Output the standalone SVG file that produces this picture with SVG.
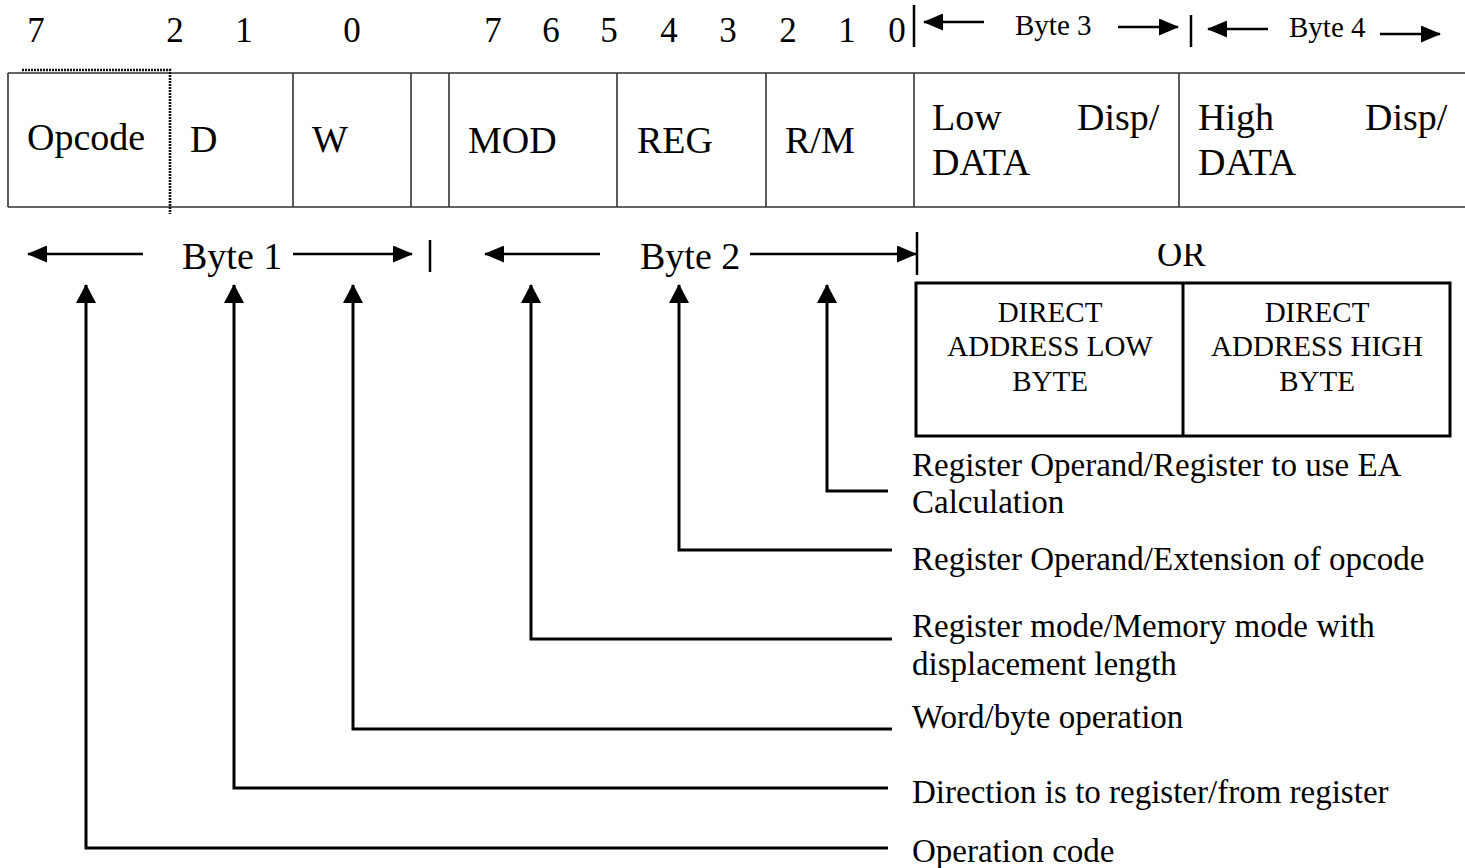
<svg xmlns="http://www.w3.org/2000/svg" width="1465" height="868" viewBox="0 0 1465 868">
  <style>
    text { font-family: "Liberation Serif", "Times New Roman", serif; fill: #000; }
    .bit { font-size: 35px; text-anchor: middle; }
    .cell { font-size: 38px; }
    .byte { font-size: 38px; }
    .byte-sm { font-size: 29px; }
    .box { font-size: 29px; text-anchor: middle; }
    .lbl { font-size: 33px; }
    .grid { stroke: #333; stroke-width: 1.6; fill: none; }
    .dot { stroke: #111; stroke-width: 2.6; stroke-dasharray: 2 1; fill: none; }
    .bar { stroke: #000; stroke-width: 2.5; }
    .harrow { stroke: #000; stroke-width: 2.5; fill: none; marker-end: url(#ah); }
    .lead { stroke: #000; stroke-width: 3; fill: none; marker-end: url(#au); }
  </style>
  <defs>
    <marker id="ah" markerUnits="userSpaceOnUse" markerWidth="20" markerHeight="17" refX="19" refY="8.5" orient="auto">
      <path d="M0,0 L20,8.5 L0,17 z" fill="#000"/>
    </marker>
    <marker id="au" markerUnits="userSpaceOnUse" markerWidth="19" markerHeight="20" refX="18" refY="10" orient="auto">
      <path d="M0,0 L19,10 L0,20 z" fill="#000"/>
    </marker>
    <clipPath id="orclip"><rect x="1140" y="244" width="90" height="40"/></clipPath>
  </defs>

  <rect width="1465" height="868" fill="#fff"/>

  <!-- bit numbers -->
  <g id="bit-numbers">
    <text class="bit" x="36" y="42">7</text>
    <text class="bit" x="175" y="42">2</text>
    <text class="bit" x="244" y="42">1</text>
    <text class="bit" x="352" y="42">0</text>
    <text class="bit" x="493" y="42">7</text>
    <text class="bit" x="551" y="42">6</text>
    <text class="bit" x="609" y="42">5</text>
    <text class="bit" x="669" y="42">4</text>
    <text class="bit" x="728" y="42">3</text>
    <text class="bit" x="788" y="42">2</text>
    <text class="bit" x="847" y="42">1</text>
    <text class="bit" x="897" y="42">0</text>
  </g>

  <!-- instruction format table -->
  <g id="table">
    <line class="grid" x1="8" y1="73" x2="1465" y2="73"/>
    <line class="grid" x1="8" y1="207" x2="1465" y2="207"/>
    <line class="grid" x1="8" y1="73" x2="8" y2="207"/>
    <line class="grid" x1="293" y1="73" x2="293" y2="207"/>
    <line class="grid" x1="411" y1="73" x2="411" y2="207"/>
    <line class="grid" x1="449" y1="73" x2="449" y2="207"/>
    <line class="grid" x1="617" y1="73" x2="617" y2="207"/>
    <line class="grid" x1="766" y1="73" x2="766" y2="207"/>
    <line class="grid" x1="914" y1="73" x2="914" y2="207"/>
    <line class="grid" x1="1179" y1="73" x2="1179" y2="207"/>
    <path class="dot" d="M22,70 H170 V214"/>
  </g>
  <g id="cell-opcode"><text class="cell" x="27" y="150">Opcode</text></g>
  <g id="cell-d"><text class="cell" x="190" y="152">D</text></g>
  <g id="cell-w"><text class="cell" x="312" y="152">W</text></g>
  <g id="cell-mod"><text class="cell" x="468" y="153">MOD</text></g>
  <g id="cell-reg"><text class="cell" x="637" y="153">REG</text></g>
  <g id="cell-rm"><text class="cell" x="785" y="153">R/M</text></g>
  <g id="cell-byte3">
    <text class="cell" x="932" y="130">Low</text>
    <text class="cell" x="1077" y="130">Disp/</text>
    <text class="cell" x="932" y="175">DATA</text>
  </g>
  <g id="cell-byte4">
    <text class="cell" x="1198" y="130">High</text>
    <text class="cell" x="1365" y="130">Disp/</text>
    <text class="cell" x="1198" y="175">DATA</text>
  </g>

  <!-- byte span labels -->
  <g id="byte-labels">
    <text class="byte" x="182" y="269">Byte 1</text>
    <text class="byte" x="640" y="269">Byte 2</text>
    <text class="byte-sm" x="1015" y="35">Byte 3</text>
    <text class="byte-sm" x="1289" y="37">Byte 4</text>
    <line class="bar" x1="914" y1="5" x2="914" y2="47"/>
    <line class="bar" x1="1191" y1="15" x2="1191" y2="47"/>
    <line class="bar" x1="430" y1="240" x2="430" y2="272"/>
    <line class="bar" x1="917" y1="232" x2="917" y2="275"/>
  </g>

  <!-- OR alternative -->
  <g id="or-label"><text x="1157" y="266" font-size="35" clip-path="url(#orclip)">OR</text></g>
  <g id="direct-address">
    <rect x="916" y="283" width="534" height="153" fill="none" stroke="#000" stroke-width="3"/>
    <line x1="1183" y1="283" x2="1183" y2="436" stroke="#000" stroke-width="3"/>
    <text class="box" x="1050" y="322">DIRECT</text>
    <text class="box" x="1050" y="356">ADDRESS LOW</text>
    <text class="box" x="1050" y="391">BYTE</text>
    <text class="box" x="1317" y="322">DIRECT</text>
    <text class="box" x="1317" y="356">ADDRESS HIGH</text>
    <text class="box" x="1317" y="391">BYTE</text>
  </g>

  <!-- descriptions -->
  <g id="desc-rm">
    <text class="lbl" x="912" y="476">Register Operand/Register to use EA</text>
    <text class="lbl" x="912" y="513">Calculation</text>
  </g>
  <g id="desc-reg"><text class="lbl" x="912" y="570">Register Operand/Extension of opcode</text></g>
  <g id="desc-mod">
    <text class="lbl" x="912" y="637">Register mode/Memory mode with</text>
    <text class="lbl" x="912" y="675">displacement length</text>
  </g>
  <g id="desc-w"><text class="lbl" x="912" y="728">Word/byte operation</text></g>
  <g id="desc-d"><text class="lbl" x="912" y="803">Direction is to register/from register</text></g>
  <g id="desc-opcode"><text class="lbl" x="912" y="862">Operation code</text></g>

  <!-- connectors -->
  <g id="connectors">
    <path class="harrow" d="M143,254 H28"/>
    <path class="harrow" d="M293,254 H412"/>
    <path class="harrow" d="M600,254 H485"/>
    <path class="harrow" d="M750,254 H916"/>
    <path class="harrow" d="M984,22 H924"/>
    <path class="harrow" d="M1118,27 H1178"/>
    <path class="harrow" d="M1268,29 H1208"/>
    <path class="harrow" d="M1380,34 H1440"/>

    <path class="lead" d="M888,848 H86 V285"/>
    <path class="lead" d="M888,788 H234 V285"/>
    <path class="lead" d="M892,729 H353 V285"/>
    <path class="lead" d="M892,639 H531 V285"/>
    <path class="lead" d="M892,550 H679 V285"/>
    <path class="lead" d="M888,491 H827 V285"/>
  </g>
</svg>
